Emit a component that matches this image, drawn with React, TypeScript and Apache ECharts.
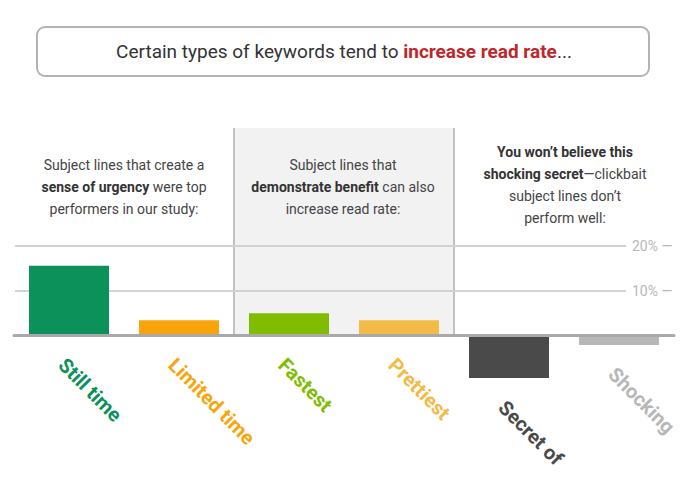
import React, { useEffect, useRef } from "react";
import * as echarts from "echarts";

// ---- data ----
const categories = ["Still time", "Limited time", "Fastest", "Prettiest", "Secret of", "Shocking"];
const readRateChange = [15.6, 3.4, 5.0, 3.4, -9.5, -2.1];
const barColors = ["#0b9159", "#f9a40a", "#80bd01", "#f2ba48", "#4a4a4a", "#b7b7b7"];
const shadedGroup = [false, false, true, true, false, false];
const valueMin = -20;
const valueMax = 20;
const valueStep = 10;
const labelledTicks = [10, 20];

const titlePlain = "Certain types of keywords tend to ";
const titleHighlight = "increase read rate";
const titleEnd = "...";

const note1 = "Subject lines that create a\n{b|sense of urgency}{n| were top}\nperformers in our study:";
const note2 = "Subject lines that\n{b|demonstrate benefit}{n| can also}\nincrease read rate:";
const note3 = "{b|You won\u2019t believe this}\n{b|shocking secret}{n|\u2014clickbait}\nsubject lines don\u2019t\nperform well:";

const FONT = "Roboto, 'Open Sans', sans-serif";

export default function App() {
  const ref = useRef<HTMLDivElement>(null);

  useEffect(() => {
    if (!ref.current) return;
    const chart = echarts.init(ref.current, undefined, { renderer: "svg" });

    const tickValues: number[] = [];
    for (let v = valueMin; v <= valueMax; v += valueStep) tickValues.push(v);
    const gridLineColors = tickValues.map((v) => (labelledTicks.includes(v) ? "#d2d2d2" : "rgba(0,0,0,0)"));
    const areaColors = shadedGroup.map((s) => (s ? "#f2f2f2" : "rgba(0,0,0,0)"));
    const borderColors: string[] = [];
    for (let i = 0; i <= shadedGroup.length; i++) {
      const a = i > 0 ? shadedGroup[i - 1] : false;
      const b = i < shadedGroup.length ? shadedGroup[i] : false;
      borderColors.push(a !== b ? "#c2c2c2" : "rgba(0,0,0,0)");
    }

    const noteRich = {
      n: { fontSize: 14, fontFamily: FONT, fill: "#444", lineHeight: 22 },
      b: { fontSize: 14, fontFamily: FONT, fill: "#333", fontWeight: "bold", lineHeight: 22 },
    };
    const noteStyle = (text: string) => ({
      text,
      rich: noteRich,
      fontSize: 14,
      fontFamily: FONT,
      fill: "#444",
      lineHeight: 22,
      align: "center",
      textAlign: "center",
      verticalAlign: "top",
      textVerticalAlign: "top",
    });

    const option: any = {
      animation: false,
      textStyle: { fontFamily: FONT },
      grid: [
        { left: 14, right: 16, top: 246, bottom: 59 },
        { left: 15, right: 64, top: 246, bottom: 59 },
        { left: 14, right: 16, top: 128, bottom: 148.5 },
      ],
      xAxis: [
        {
          gridIndex: 0,
          type: "category",
          data: categories,
          z: 5,
          axisLine: { show: true, onZero: true, lineStyle: { color: "#a9a9a9", width: 3 } },
          axisTick: { show: false },
          axisLabel: { show: false },
          splitLine: { show: false },
        },
        { gridIndex: 1, type: "value", show: false, min: 0, max: 1 },
        {
          gridIndex: 2,
          type: "category",
          data: categories,
          z: 0,
          axisLine: { show: false },
          axisTick: { show: false },
          axisLabel: { show: false },
          splitArea: { show: true, interval: 0, areaStyle: { color: areaColors } },
          splitLine: { show: true, interval: 0, lineStyle: { color: borderColors, width: 2 } },
        },
      ],
      yAxis: [
        { gridIndex: 0, type: "value", min: valueMin, max: valueMax, interval: valueStep, show: false },
        {
          gridIndex: 1,
          type: "value",
          min: valueMin,
          max: valueMax,
          interval: valueStep,
          position: "right",
          z: 1,
          axisLine: { show: false },
          axisTick: { show: false },
          axisLabel: {
            margin: 6,
            color: "#b8b8b8",
            fontSize: 14,
            fontFamily: FONT,
            formatter: (v: number) => (labelledTicks.includes(v) ? `${v}% \u2014` : ""),
          },
          splitLine: { show: true, lineStyle: { color: gridLineColors, width: 2 } },
        },
        { gridIndex: 2, type: "value", min: 0, max: 1, show: false },
      ],
      series: [
        {
          type: "bar",
          xAxisIndex: 0,
          yAxisIndex: 0,
          barWidth: 80,
          z: 2,
          data: readRateChange.map((v, i) => ({ value: v, itemStyle: { color: barColors[i] } })),
        },
        {
          type: "custom",
          xAxisIndex: 0,
          yAxisIndex: 0,
          z: 3,
          clip: false,
          encode: { x: 0, y: 1 },
          data: readRateChange.map((v, i) => [i, v]),
          renderItem: (params: any, api: any) => {
            const idx = api.value(0);
            const v = api.value(1);
            const p = api.coord([idx, Math.min(0, v)]);
            return {
              type: "text",
              x: p[0] - 7,
              y: p[1] + 26,
              rotation: -Math.PI / 4,
              style: {
                text: categories[idx],
                fill: barColors[idx],
                font: `bold 20px ${FONT}`,
                align: "left",
                textAlign: "left",
                verticalAlign: "middle",
                textVerticalAlign: "middle",
              },
            };
          },
        },
      ],
      graphic: [
        {
          type: "rect",
          z: 10,
          shape: { x: 37, y: 27, width: 612, height: 49, r: 8 },
          style: { fill: "#ffffff", stroke: "#b3b3b3", lineWidth: 2 },
        },
        {
          type: "text",
          z: 11,
          x: 344,
          y: 51,
          style: {
            text: `{n|${titlePlain}}{r|${titleHighlight}}{n|${titleEnd}}`,
            rich: {
              n: { fontSize: 19, fontFamily: FONT, fill: "#333333" },
              r: { fontSize: 19, fontFamily: FONT, fill: "#c0272d", fontWeight: "bold" },
            },
            align: "center",
            textAlign: "center",
            verticalAlign: "middle",
            textVerticalAlign: "middle",
          },
        },
        { type: "text", z: 11, x: 124, y: 154, style: noteStyle(note1) },
        { type: "text", z: 11, x: 343, y: 154, style: noteStyle(note2) },
        { type: "text", z: 11, x: 565, y: 141, style: noteStyle(note3) },
      ],
    };

    chart.setOption(option);
    return () => chart.dispose();
  }, []);

  return (
    <div
      ref={ref}
      style={{ position: "absolute", left: 0, top: 0, width: 690, height: 484, background: "#fff" }}
    />
  );
}
